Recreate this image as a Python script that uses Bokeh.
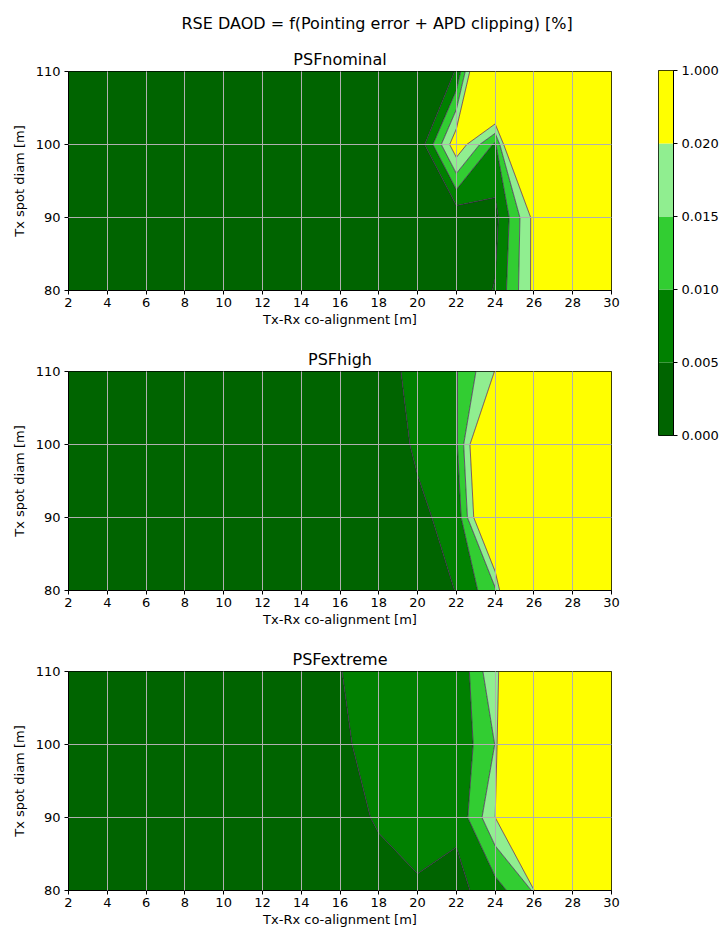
import numpy as np
from bokeh.plotting import figure
from bokeh.layouts import column, row
from bokeh.models import FixedTicker, Title, Range1d, LinearAxis
from bokeh.embed import file_html
from bokeh.resources import INLINE

# ---------------- data ----------------
X_VALUES = [2, 4, 6, 8, 10, 12, 14, 16, 18, 20, 22, 24, 26, 28, 30]   # Tx-Rx co-alignment [m]
Y_VALUES = [80, 90, 100, 110]                                            # Tx spot diam [m]
X_TICKS = [2, 4, 6, 8, 10, 12, 14, 16, 18, 20, 22, 24, 26, 28, 30]
Y_TICKS = [80, 90, 100, 110]

LEVELS = [0.0, 0.005, 0.010, 0.015, 0.020, 1.0]
FILL_COLORS = ["#006400", "#008000", "#32cd32", "#90ee90", "#ffff00"]

# RSE DAOD values, one list per Tx spot diameter (row), one value per co-alignment (column)
NOMINAL_80 = [0.0002, 0.0002, 0.0003, 0.0003, 0.0003, 0.0004, 0.0004, 0.0005, 0.0006, 0.0008, 0.0010, 0.0053, 0.0214, 0.35, 0.62]
NOMINAL_90 = [0.0002, 0.0003, 0.0003, 0.0003, 0.0004, 0.0004, 0.0005, 0.0006, 0.0007, 0.0010, 0.0013, 0.0035, 0.0215, 0.40, 0.70]
NOMINAL_100 = [0.0002, 0.0002, 0.0003, 0.0003, 0.0004, 0.0004, 0.0005, 0.0005, 0.0006, 0.0008, 0.0240, 0.0090, 0.0590, 0.45, 0.75]
NOMINAL_110 = [0.0002, 0.0003, 0.0003, 0.0004, 0.0004, 0.0005, 0.0006, 0.0007, 0.0008, 0.0010, 0.0052, 0.0480, 0.2000, 0.50, 0.80]

HIGH_80 = [0.0003, 0.0004, 0.0005, 0.0006, 0.0008, 0.0010, 0.0012, 0.0015, 0.0020, 0.0030, 0.0051, 0.0140, 0.065, 0.30, 0.55]
HIGH_90 = [0.0004, 0.0005, 0.0006, 0.0008, 0.0010, 0.0012, 0.0015, 0.0019, 0.0025, 0.0043, 0.0062, 0.0370, 0.250, 0.45, 0.65]
HIGH_100 = [0.0004, 0.0005, 0.0007, 0.0009, 0.0011, 0.0014, 0.0018, 0.0023, 0.0030, 0.0055, 0.0092, 0.0400, 0.300, 0.50, 0.70]
HIGH_110 = [0.0005, 0.0006, 0.0008, 0.0010, 0.0012, 0.0015, 0.0019, 0.0024, 0.0030, 0.0065, 0.0097, 0.0202, 0.350, 0.55, 0.75]

EXTREME_80 = [0.0008, 0.0010, 0.0013, 0.0016, 0.0020, 0.0024, 0.0028, 0.0030, 0.0038, 0.00455, 0.00354, 0.0077, 0.0155, 0.50, 0.70]
EXTREME_90 = [0.0009, 0.0012, 0.0015, 0.0019, 0.0023, 0.0027, 0.0032, 0.0038, 0.00533, 0.0065, 0.0060, 0.0196, 0.50, 0.60, 0.80]
EXTREME_100 = [0.0010, 0.0013, 0.0017, 0.0021, 0.0025, 0.0030, 0.0035, 0.0045, 0.0061, 0.0070, 0.0061, 0.0151, 0.113, 0.50, 0.80]
EXTREME_110 = [0.0011, 0.0014, 0.0018, 0.0022, 0.0027, 0.0032, 0.0038, 0.0049, 0.0068, 0.0075, 0.0052, 0.0195, 0.025, 0.40, 0.70]

SUPTITLE = "RSE DAOD = f(Pointing error + APD clipping) [%]"
PANEL_TITLES = ["PSFnominal", "PSFhigh", "PSFextreme"]
X_LABEL = "Tx-Rx co-alignment [m]"
Y_LABEL = "Tx spot diam [m]"

PANELS = [
    [NOMINAL_80, NOMINAL_90, NOMINAL_100, NOMINAL_110],
    [HIGH_80, HIGH_90, HIGH_100, HIGH_110],
    [EXTREME_80, EXTREME_90, EXTREME_100, EXTREME_110],
]

FONT = "DejaVu Sans"
FRAME_W, FRAME_H = 543, 219


def style_axis(ax):
    ax.major_label_text_font = FONT
    ax.major_label_text_font_size = "13px"
    ax.major_label_text_color = "black"
    ax.axis_label_text_font = FONT
    ax.axis_label_text_font_size = "13px"
    ax.axis_label_text_font_style = "normal"
    ax.axis_label_text_color = "black"
    ax.axis_line_color = "black"
    ax.major_tick_line_color = "black"
    ax.major_tick_out = 4
    ax.major_tick_in = 0
    ax.minor_tick_line_color = None


def style_title(t):
    t.text_font = FONT
    t.text_font_size = "16px"
    t.text_font_style = "normal"
    t.text_color = "black"
    t.standoff = 6


def make_panel(title, rows, top, bottom):
    p = figure(frame_width=FRAME_W, frame_height=FRAME_H,
               x_range=Range1d(X_VALUES[0], X_VALUES[-1]),
               y_range=Range1d(Y_VALUES[0], Y_VALUES[-1]),
               output_backend="svg", toolbar_location=None,
               min_border_left=68, min_border_right=15,
               min_border_top=top, min_border_bottom=bottom,
               title=title)
    z = np.array(rows, dtype=float)
    p.contour(X_VALUES, Y_VALUES, z, LEVELS, fill_color=FILL_COLORS,
              line_color="#440154", line_alpha=0.7, line_width=0.9)
    p.title.align = "center"
    style_title(p.title)
    p.xaxis.ticker = FixedTicker(ticks=X_TICKS)
    p.yaxis.ticker = FixedTicker(ticks=Y_TICKS)
    p.xaxis.axis_label = X_LABEL
    p.yaxis.axis_label = Y_LABEL
    for ax in (p.xaxis[0], p.yaxis[0]):
        style_axis(ax)
    p.xaxis.major_label_standoff = 3
    p.xaxis.axis_label_standoff = 2
    p.yaxis.major_label_standoff = 4
    p.yaxis.axis_label_standoff = 6
    p.grid.level = "overlay"
    p.grid.grid_line_color = "#b0b0b0"
    p.grid.grid_line_width = 1
    p.grid.grid_line_alpha = 1
    p.outline_line_color = "black"
    p.outline_line_width = 1
    p.outline_line_alpha = 1
    p.background_fill_color = "white"
    p.border_fill_color = "white"
    return p


# top panel: main title is the figure title, panel title added closer to the frame
p1 = make_panel(SUPTITLE, PANELS[0], 70, 51)
p1.title.align = "left"
p1.title.offset = 113
p1.title.standoff = 23
p1.add_layout(Title(text=PANEL_TITLES[0], align="center", text_font=FONT,
                    text_font_size="16px", text_font_style="normal",
                    text_color="black", standoff=6), "above")
p2 = make_panel(PANEL_TITLES[1], PANELS[1], 30, 51)
p3 = make_panel(PANEL_TITLES[2], PANELS[2], 30, 42)

# ---------------- colour bar ----------------
band_idx = list(range(len(FILL_COLORS)))
pc = figure(frame_width=15, frame_height=365, x_range=Range1d(0, 1),
            y_range=Range1d(0, len(FILL_COLORS)),
            output_backend="svg", toolbar_location=None,
            min_border_left=32, min_border_right=46, min_border_top=70,
            min_border_bottom=10)
pc.quad(left=0, right=1, bottom=band_idx, top=[i + 1 for i in band_idx],
        fill_color=FILL_COLORS, line_color=None)
pc.xaxis.visible = False
pc.yaxis.visible = False
pc.grid.visible = False
cb_axis = LinearAxis(ticker=FixedTicker(ticks=list(range(len(LEVELS)))),
                     major_label_overrides={i: f"{v:.3f}" for i, v in enumerate(LEVELS)})
style_axis(cb_axis)
cb_axis.major_label_standoff = 4
pc.add_layout(cb_axis, "right")
pc.outline_line_color = "black"
pc.outline_line_width = 1
pc.outline_line_alpha = 1

layout = row(column(p1, p2, p3), pc)

with open("out.html", "w") as f:
    f.write(file_html(layout, INLINE))
